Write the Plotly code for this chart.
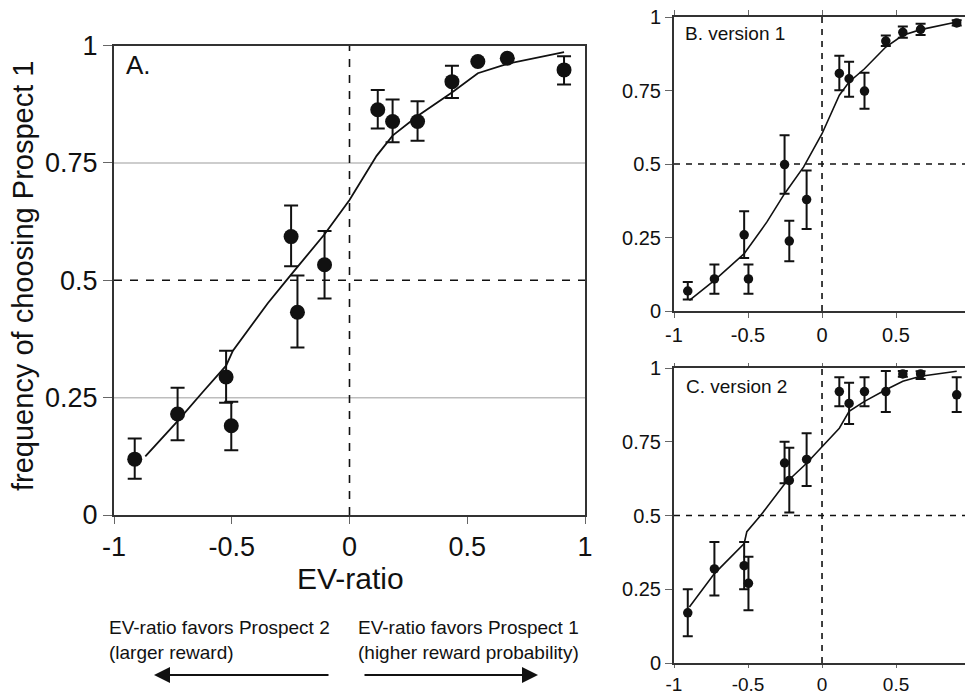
import plotly.graph_objects as go

# ---------------- data ----------------
# Panel A (all subjects)
a_x = [-0.912, -0.730, -0.524, -0.502, -0.248, -0.221, -0.106, 0.120, 0.183, 0.289, 0.435, 0.545, 0.670, 0.911]
a_y = [0.119, 0.215, 0.294, 0.190, 0.593, 0.432, 0.533, 0.863, 0.838, 0.838, 0.923, 0.966, 0.973, 0.948]
a_hi = [0.163, 0.271, 0.350, 0.241, 0.659, 0.510, 0.605, 0.905, 0.885, 0.881, 0.957, 0.966, 0.973, 0.977]
a_lo = [0.077, 0.159, 0.239, 0.138, 0.530, 0.357, 0.461, 0.823, 0.794, 0.797, 0.888, 0.966, 0.973, 0.917]
a_fit_x = [-0.867, -0.73, -0.623, -0.524, -0.495, -0.347, -0.248, -0.106, 0.0, 0.115, 0.183, 0.289, 0.435, 0.545, 0.670, 0.911]
a_fit_y = [0.125, 0.200, 0.262, 0.318, 0.350, 0.451, 0.512, 0.598, 0.671, 0.765, 0.808, 0.850, 0.900, 0.941, 0.961, 0.986]

# Panel B (version 1)
b_x = [-0.907, -0.727, -0.526, -0.497, -0.253, -0.221, -0.104, 0.117, 0.183, 0.287, 0.431, 0.546, 0.666, 0.910]
b_y = [0.068, 0.109, 0.259, 0.109, 0.498, 0.238, 0.379, 0.808, 0.790, 0.748, 0.918, 0.948, 0.958, 0.980]
b_hi = [0.099, 0.158, 0.339, 0.158, 0.598, 0.307, 0.478, 0.868, 0.848, 0.810, 0.937, 0.968, 0.977, 0.989]
b_lo = [0.039, 0.059, 0.180, 0.059, 0.399, 0.169, 0.279, 0.751, 0.729, 0.688, 0.901, 0.929, 0.939, 0.971]
b_fit_x = [-0.896, -0.727, -0.526, -0.372, -0.253, -0.124, 0.0, 0.117, 0.183, 0.287, 0.431, 0.546, 0.666, 0.910]
b_fit_y = [0.036, 0.104, 0.195, 0.303, 0.399, 0.490, 0.603, 0.734, 0.779, 0.824, 0.898, 0.938, 0.957, 0.983]

# Panel C (version 2)
c_x = [-0.907, -0.727, -0.526, -0.497, -0.253, -0.221, -0.104, 0.117, 0.183, 0.287, 0.431, 0.546, 0.666, 0.910]
c_y = [0.170, 0.319, 0.330, 0.270, 0.678, 0.619, 0.690, 0.920, 0.880, 0.920, 0.920, 0.980, 0.980, 0.909]
c_hi = [0.250, 0.410, 0.410, 0.360, 0.750, 0.730, 0.779, 0.969, 0.950, 0.969, 0.990, 0.990, 0.989, 0.969]
c_lo = [0.091, 0.229, 0.250, 0.179, 0.609, 0.510, 0.600, 0.870, 0.810, 0.870, 0.851, 0.970, 0.963, 0.851]
c_fit_x = [-0.896, -0.727, -0.526, -0.508, -0.418, -0.253, -0.104, 0.0, 0.117, 0.183, 0.287, 0.431, 0.546, 0.666, 0.910]
c_fit_y = [0.190, 0.303, 0.405, 0.445, 0.498, 0.607, 0.677, 0.734, 0.796, 0.853, 0.887, 0.926, 0.955, 0.972, 0.989]

x_ticks = [-1, -0.5, 0, 0.5, 1]
x_ticktext = ["-1", "-0.5", "0", "0.5", "1"]
y_ticks = [0, 0.25, 0.5, 0.75, 1]
y_ticktext = ["0", "0.25", "0.5", "0.75", "1"]

FONT = "Liberation Sans, Arial, Helvetica, sans-serif"
INK = "#111111"
AXC = "#333333"

fig = go.Figure()


def add_panel(xs, ys, hi, lo, fx, fy, xa, ya, msize, capw, lw):
    fig.add_trace(go.Scatter(
        x=fx, y=fy, mode="lines", xaxis=xa, yaxis=ya,
        line=dict(color=INK, width=lw), showlegend=False, hoverinfo="skip"))
    fig.add_trace(go.Scatter(
        x=xs, y=ys, mode="markers", xaxis=xa, yaxis=ya,
        marker=dict(color=INK, size=msize),
        error_y=dict(type="data", symmetric=False,
                     array=[h - v for h, v in zip(hi, ys)],
                     arrayminus=[v - l for v, l in zip(ys, lo)],
                     color=INK, thickness=2, width=capw),
        showlegend=False))


add_panel(a_x, a_y, a_hi, a_lo, a_fit_x, a_fit_y, "x", "y", 15, 7, 1.8)
add_panel(b_x, b_y, b_hi, b_lo, b_fit_x, b_fit_y, "x2", "y2", 9.5, 5, 1.6)
add_panel(c_x, c_y, c_hi, c_lo, c_fit_x, c_fit_y, "x3", "y3", 9.5, 5, 1.6)

W, H = 965, 693


def px_x(p):
    return p / W


def px_y(p):
    return 1 - p / H


def xaxis(domain, rng, fs, ticklen, mirror, anchor):
    return dict(domain=domain, range=rng, tickvals=x_ticks, ticktext=x_ticktext,
                showline=True, linecolor=AXC, linewidth=2, mirror=mirror, anchor=anchor,
                ticks="outside", ticklen=ticklen, tickcolor="#666666", tickwidth=1,
                showgrid=False, zeroline=False, automargin=False,
                tickfont=dict(family=FONT, size=fs, color=INK))


def yaxis(domain, fs, ticklen, mirror, anchor):
    return dict(domain=domain, range=[0, 1], tickvals=y_ticks, ticktext=y_ticktext,
                showline=True, linecolor=AXC, linewidth=2, mirror=mirror,
                ticks="outside", ticklen=ticklen, tickcolor="#666666", tickwidth=1,
                showgrid=False, zeroline=False, anchor=anchor, automargin=False,
                tickfont=dict(family=FONT, size=fs, color=INK))


fig.update_layout(
    width=W, height=H,
    margin=dict(l=0, r=0, t=0, b=0, autoexpand=False),
    paper_bgcolor="white", plot_bgcolor="white",
    font=dict(family=FONT, color=INK),
    xaxis=xaxis([px_x(114), px_x(585)], [-1, 1], 27, 7, True, "y"),
    yaxis=yaxis([px_y(515), px_y(45.5)], 27, 9, True, "x"),
    xaxis2=xaxis([px_x(674), 1.0], [-1, 0.966], 20, 5, "allticks", "y2"),
    yaxis2=yaxis([px_y(311), px_y(17)], 20, 7, False, "x2"),
    xaxis3=xaxis([px_x(674), 1.0], [-1, 0.966], 19, 3, "allticks", "y3"),
    yaxis3=yaxis([px_y(663), px_y(368)], 20, 7, False, "x3"),
)

shapes = []
# light grey reference lines in panel A
for yv in (0.25, 0.75):
    shapes.append(dict(type="line", xref="x domain", yref="y", x0=0, x1=1, y0=yv, y1=yv,
                       line=dict(color="#bdbdbd", width=1.5), layer="below"))
# dashed reference lines
for xa, ya, dash in (("x", "y", "8px,8px"), ("x2", "y2", "6px,6px"), ("x3", "y3", "6px,6px")):
    shapes.append(dict(type="line", xref=xa + " domain", yref=ya, x0=0, x1=1, y0=0.5, y1=0.5,
                       line=dict(color=INK, width=1.6, dash=dash), layer="below"))
    shapes.append(dict(type="line", xref=xa, yref=ya + " domain", x0=0, x1=0, y0=0, y1=1,
                       line=dict(color=INK, width=1.6, dash=dash), layer="below"))
fig.update_layout(shapes=shapes)

ann = []
ann.append(dict(text="A.", xref="paper", yref="paper", x=px_x(124), y=px_y(65),
                xanchor="left", yanchor="middle", showarrow=False,
                font=dict(size=26, family=FONT, color=INK)))
ann.append(dict(text="B. version 1", xref="paper", yref="paper", x=px_x(683), y=px_y(33),
                xanchor="left", yanchor="middle", showarrow=False,
                font=dict(size=19, family=FONT, color=INK)))
ann.append(dict(text="C. version 2", xref="paper", yref="paper", x=px_x(684), y=px_y(386),
                xanchor="left", yanchor="middle", showarrow=False,
                font=dict(size=19, family=FONT, color=INK)))
ann.append(dict(text="frequency of choosing Prospect 1", xref="paper", yref="paper",
                x=px_x(23), y=px_y(276), textangle=-90, xanchor="center", yanchor="middle",
                showarrow=False, font=dict(size=29, family=FONT, color=INK)))
ann.append(dict(text="EV-ratio", xref="paper", yref="paper", x=px_x(350), y=px_y(578),
                xanchor="center", yanchor="middle", showarrow=False,
                font=dict(size=30, family=FONT, color=INK)))
ann.append(dict(text="EV-ratio favors Prospect 2<br>(larger reward)", xref="paper", yref="paper",
                x=px_x(107), y=px_y(640), xanchor="left", yanchor="middle", align="left",
                showarrow=False, font=dict(size=19, family=FONT, color=INK)))
ann.append(dict(text="EV-ratio favors Prospect 1<br>(higher reward probability)", xref="paper",
                yref="paper", x=px_x(356), y=px_y(640), xanchor="left", yanchor="middle",
                align="left", showarrow=False, font=dict(size=19, family=FONT, color=INK)))
# arrows
ann.append(dict(text="", xref="paper", yref="paper", x=px_x(154), y=px_y(675),
                ax=176, ay=0, showarrow=True, arrowhead=2, arrowsize=1.6, arrowwidth=2,
                arrowcolor=INK))
ann.append(dict(text="", xref="paper", yref="paper", x=px_x(538), y=px_y(675),
                ax=-175, ay=0, showarrow=True, arrowhead=2, arrowsize=1.6, arrowwidth=2,
                arrowcolor=INK))
fig.update_layout(annotations=ann)

fig.write_html(
    "out.html",
    config={"displayModeBar": False},
    post_script="document.body.style.margin='0px';document.body.style.overflow='hidden';",
)
